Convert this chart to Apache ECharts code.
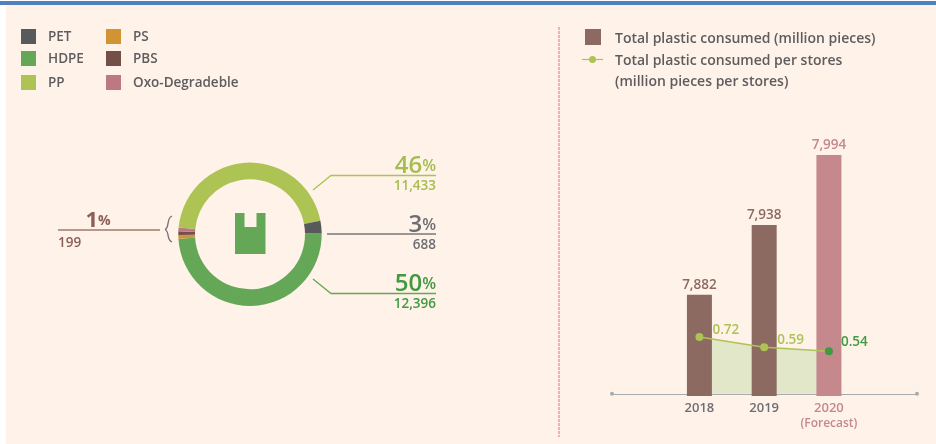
<!DOCTYPE html>
<html>
<head>
<meta charset="utf-8">
<style>
html,body{margin:0;padding:0;background:#ffffff;}
#chart{width:936px;height:444px;}
</style>
<script src="https://cdn.jsdelivr.net/npm/echarts@6/dist/echarts.min.js"></script>
</head>
<body>
<div id="chart"></div>
<script>
// Plastic bag consumption by material
const materials = ['HDPE', 'PS', 'PBS', 'Oxo-Degradeble', 'PP', 'PET'];
const materialPieces = [12396, 80, 60, 59, 11433, 688];
const materialColors = ['#64a756', '#d09433', '#744f48', '#bc7a80', '#adc454', '#58595b'];

// Callouts around the ring
const calloutPercents = ['46', '3', '50', '1'];
const calloutPieces = ['11,433', '688', '12,396', '199'];

// Yearly totals and per-store figures
const years = [2018, 2019, 2020];
const totalConsumed = [7882, 7938, 7994];
const perStore = [0.72, 0.59, 0.54];

const FONT = '"Open Sans", sans-serif';
const GREY = '#5d5d60';
const LIME = '#adc454';
const GREEN = '#3f9a40';
const BROWN = '#8c6a62';
const ROSE = '#c4888d';
const colorOf = n => materialColors[materials.indexOf(n)];

const fmt = v => v.toLocaleString('en-US');

const chart = echarts.init(document.getElementById('chart'), null, {renderer: 'canvas'});

// One swatch-and-name pair of the material key
function keyItem(name, x, y) {
  return [
    {type: 'rect', shape: {x: x, y: y, width: 15, height: 15}, style: {fill: colorOf(name)}},
    {type: 'text', x: x + 27, y: y + 8.5, style: {text: name, font: '600 13.5px ' + FONT, fill: GREY, verticalAlign: 'middle'}}
  ];
}

// Big percent with the piece count under a leader line
function callout(i, x, y, color) {
  return [
    {type: 'text', x: x, y: y + 2, style: {
      rich: {a: {fontSize: 24, fontWeight: 600, fontFamily: FONT, fill: color}, b: {fontSize: 16, fontWeight: 600, fontFamily: FONT, fill: color}},
      text: '{a|' + calloutPercents[i] + '}{b|%}', align: 'right', verticalAlign: 'bottom'
    }},
    {type: 'text', x: x, y: y + 3, style: {
      text: calloutPieces[i], font: '600 13.5px ' + FONT, fill: color, align: 'right', verticalAlign: 'top'
    }}
  ];
}

function polyline(points, color, width) {
  return {type: 'polyline', shape: {points: points}, style: {stroke: color, lineWidth: width || 1.3, fill: null}};
}

// Half of the curly brace beside the ring
function braceHalf(yEnd, yTip) {
  const dir = yEnd < yTip ? 1 : -1;
  return {type: 'bezierCurve', shape: {x1: 172, y1: yEnd, cpx1: 166, cpy1: yEnd + dir * 2, cpx2: 170, cpy2: yTip - dir * 2, x2: 165, y2: yTip},
    style: {stroke: '#7a6a72', lineWidth: 1.3, fill: null}};
}

const graphics = [
  {type: 'rect', z: -10, shape: {x: 6, y: 5, width: 930, height: 439}, style: {fill: '#fff2e8'}},
  {type: 'rect', z: -9, shape: {x: 0, y: 1, width: 936, height: 4}, style: {fill: '#4f81bd'}},
  {type: 'line', z: -8, shape: {x1: 559, y1: 27, x2: 559, y2: 437}, style: {stroke: '#f3aeb3', lineWidth: 2, lineDash: [3, 1]}},

  ...keyItem('PET', 21, 29), ...keyItem('HDPE', 21, 51), ...keyItem('PP', 21, 75),
  ...keyItem('PS', 106, 29), ...keyItem('PBS', 106, 51), ...keyItem('Oxo-Degradeble', 106, 75),

  // Key of the right-hand panel
  {type: 'rect', shape: {x: 585, y: 29, width: 16, height: 16}, style: {fill: BROWN}},
  {type: 'line', shape: {x1: 582, y1: 59.5, x2: 603, y2: 59.5}, style: {stroke: LIME, lineWidth: 1.2}},
  {type: 'circle', shape: {cx: 592.5, cy: 59.5, r: 3.5}, style: {fill: LIME}},
  {type: 'text', x: 615, y: 39, style: {text: 'Total plastic consumed (million pieces)', font: '600 14px ' + FONT, fill: GREY, verticalAlign: 'middle'}},
  {type: 'text', x: 615, y: 61, style: {text: 'Total plastic consumed per stores', font: '600 14px ' + FONT, fill: GREY, verticalAlign: 'middle'}},
  {type: 'text', x: 615, y: 82, style: {text: '(million pieces per stores)', font: '600 14px ' + FONT, fill: GREY, verticalAlign: 'middle'}},

  // Leader lines
  polyline([[313, 190], [331, 175.5], [436, 175.5]], LIME),
  polyline([[327, 234], [436, 234]], '#77777a'),
  polyline([[313, 279], [331, 293.5], [436, 293.5]], '#64a756'),
  polyline([[58, 230], [160, 230]], '#a5776d', 1.5),
  braceHalf(216, 229.5),
  braceHalf(242, 229.5),

  ...callout(0, 436, 176, '#a4bd4e'),
  ...callout(1, 436, 235, '#6d6e73'),
  ...callout(2, 436, 294, '#3f9a40'),
  {type: 'text', x: 98, y: 232, style: {
    rich: {a: {fontSize: 22, fontWeight: 700, fontFamily: FONT, fill: '#8c5f55'}, b: {fontSize: 14, fontWeight: 700, fontFamily: FONT, fill: '#8c5f55'}},
    text: '{a|' + calloutPercents[3] + '}{b|%}', align: 'center', verticalAlign: 'bottom'
  }},
  {type: 'text', x: 58, y: 236, style: {text: calloutPieces[3], font: '600 13.5px ' + FONT, fill: '#8c5f55', verticalAlign: 'top'}},

  // Shopping bag at the centre of the ring
  {type: 'polygon', shape: {points: [[235, 213], [244.5, 213], [244.5, 227], [256.5, 227], [256.5, 213], [265.5, 213], [265.5, 254], [235, 254]]}, style: {fill: '#64a756'}}
];

const option = {
  backgroundColor: 'transparent',
  animation: false,
  textStyle: {fontFamily: FONT},
  graphic: {elements: graphics},
  grid: {left: 612, right: 19, top: 155, bottom: 48},
  xAxis: {
    type: 'value',
    min: 2016.65,
    max: 2021.36,
    splitLine: {show: false},
    axisTick: {show: false},
    axisLine: {show: true, symbol: ['circle', 'circle'], symbolSize: [4, 4], lineStyle: {color: '#a9abae', width: 1.2}},
    axisLabel: {
      customValues: years,
      margin: 5,
      lineHeight: 15,
      fontFamily: FONT,
      fontSize: 13,
      fontWeight: 600,
      verticalAlign: 'top',
      formatter: v => v === 2020 ? '{f|2020}\n{g|(Forecast)}' : '{y|' + v + '}',
      rich: {
        y: {color: '#6d6e73', fontSize: 13, fontWeight: 600, fontFamily: FONT, lineHeight: 15},
        f: {color: ROSE, fontSize: 13, fontWeight: 600, fontFamily: FONT, lineHeight: 15},
        g: {color: ROSE, fontSize: 12, fontWeight: 600, fontFamily: FONT, lineHeight: 15}
      }
    }
  },
  yAxis: [
    {type: 'value', min: 7801, max: 7994, show: false},
    {type: 'value', min: -0.027, max: 3.023, show: false}
  ],
  series: [
    {
      // Shading under the per-store line, behind the columns
      type: 'line',
      yAxisIndex: 1,
      z: 1,
      silent: true,
      symbol: 'none',
      lineStyle: {width: 0},
      areaStyle: {color: '#e2e7c9', opacity: 1},
      data: years.map((y, i) => [y, perStore[i]])
    },
    {
      type: 'bar',
      z: 2,
      barWidth: 25,
      data: years.map((y, i) => ({
        value: [y, totalConsumed[i]],
        itemStyle: {color: y === 2020 ? ROSE : BROWN},
        label: {color: y === 2020 ? ROSE : BROWN}
      })),
      label: {show: true, position: 'top', distance: 3, fontSize: 13.5, fontWeight: 600, fontFamily: FONT, formatter: p => fmt(p.value[1])}
    },
    {
      type: 'line',
      yAxisIndex: 1,
      z: 3,
      symbol: 'circle',
      symbolSize: 8,
      lineStyle: {color: LIME, width: 1.5},
      itemStyle: {color: LIME},
      data: years.map((y, i) => {
        const last = i === years.length - 1;
        return {
          value: [y, perStore[i]],
          itemStyle: {color: last ? GREEN : LIME},
          label: {
            show: true,
            position: 'right',
            distance: last ? 8 : 9,
            offset: last ? [0, -9] : [0, -7],
            color: last ? GREEN : LIME,
            fontSize: 13.5,
            fontWeight: 600,
            fontFamily: FONT,
            formatter: p => p.value[1].toFixed(2)
          }
        };
      })
    },
    {
      type: 'pie',
      z: 4,
      center: [250, 234.3],
      radius: [55, 71.7],
      startAngle: 1,
      minAngle: 3,
      silent: true,
      label: {show: false},
      labelLine: {show: false},
      itemStyle: {borderWidth: 0},
      data: materials.map((n, i) => ({name: n, value: materialPieces[i], itemStyle: {color: materialColors[i]}}))
    }
  ]
};

chart.setOption(option);
</script>
</body>
</html>
